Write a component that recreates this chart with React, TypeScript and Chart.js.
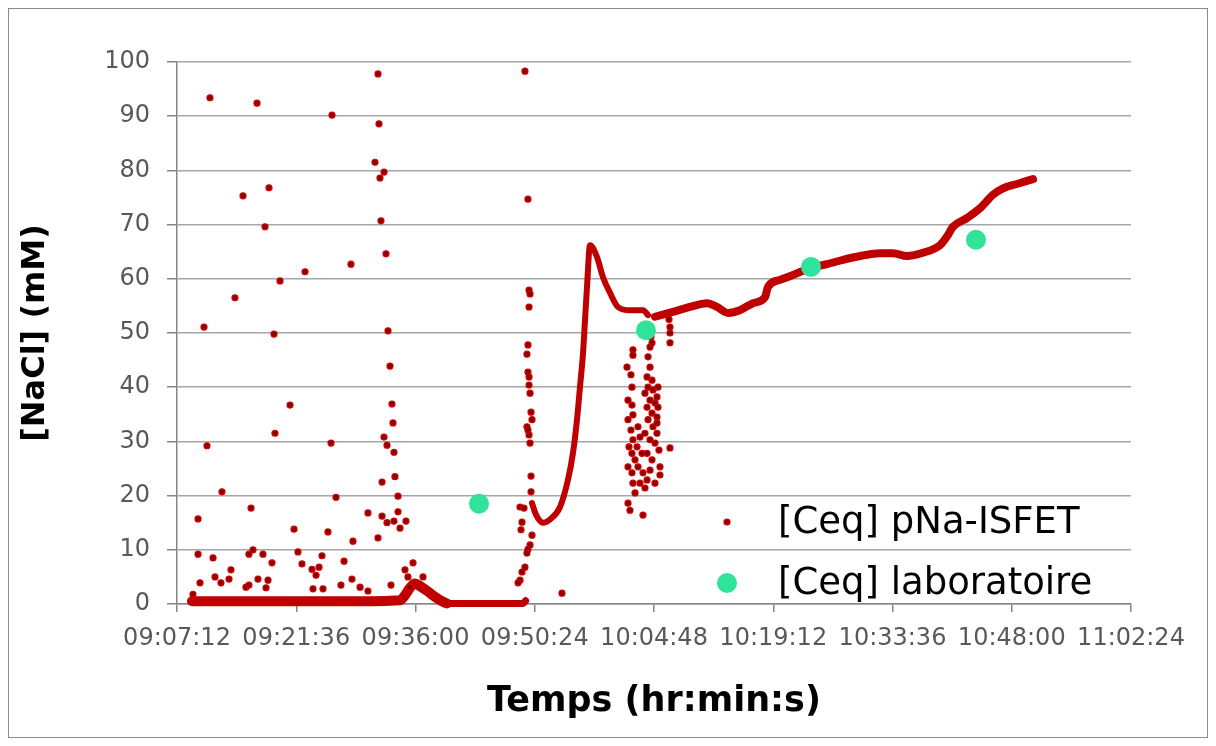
import React, { useEffect, useRef } from "react";
import { Chart, registerables } from "chart.js";

Chart.register(...registerables);

// ---- Axis ticks (minutes after 09:00:00) ----
const xTickMinutes = [7.2, 21.6, 36, 50.4, 64.8, 79.2, 93.6, 108, 122.4];
const yTickValues = [0, 10, 20, 30, 40, 50, 60, 70, 80, 90, 100];

// ---- Laboratory measurements ----
const labMinutes = [43.67, 63.83, 83.76, 103.68];
const labValues = [18.5, 50.5, 62.2, 67.2];

// ---- ISFET: dense baseline near 0 (early, with small hump) ----
const baseEarlyMinutes = [9.01, 15.0, 22.0, 28.0, 34.13, 34.73, 35.34, 35.94, 36.54, 37.51, 38.35, 39.2, 39.8];
const baseEarlyValues = [0.5, 0.5, 0.5, 0.5, 0.7, 1.6, 3.0, 3.8, 3.3, 2.3, 1.3, 0.5, 0.1];

// ---- ISFET: dense baseline near 0 (late) ----
const baseLateMinutes = [39.8, 44.0, 49.0, 49.3];
const baseLateValues = [0.1, 0.1, 0.1, 0.6];

// ---- ISFET: continuous curve after restart ----
const curveAMinutes = [50.07, 50.55, 51.4, 52.24, 53.45, 54.41, 55.02, 55.5, 55.86, 56.23, 56.47, 56.71, 57.07, 57.92, 58.64, 59.49, 60.45, 61.9, 63.47, 64.08];
const curveAValues = [18.6, 16.5, 15.0, 15.6, 17.9, 22.9, 27.9, 34.0, 40.0, 46.3, 52.4, 58.5, 66.2, 64.0, 60.3, 57.4, 54.8, 54.2, 54.2, 53.3];

const curveBMinutes = [64.92, 67.09, 69.14, 71.2, 72.41, 73.73, 75.18, 76.75, 78.2, 78.56, 80.01, 81.58, 83.64, 85.69, 87.62, 89.67, 92.09, 93.66, 95.35, 97.28, 99.33, 100.3, 100.9, 102.59, 104.16, 105.73, 106.94, 108.63, 110.57];
const curveBValues = [53.0, 53.9, 54.8, 55.5, 54.8, 53.7, 54.2, 55.5, 56.6, 58.5, 59.8, 60.7, 62.0, 62.7, 63.5, 64.2, 64.7, 64.7, 64.2, 64.8, 66.2, 68.1, 69.6, 71.2, 73.0, 75.5, 76.7, 77.5, 78.4];

// ---- ISFET: scattered readings, first period ----
const earlyMinutes = [11.18, 16.86, 25.92, 31.47, 31.59, 31.11, 32.2, 31.71, 15.17, 18.31, 17.83, 31.83, 32.44, 28.21, 22.66, 19.64, 14.2, 10.46, 18.91, 32.68, 32.92, 20.85, 33.16, 33.28, 10.82, 19.03, 25.8, 32.2, 32.56, 33.4, 33.52, 31.96, 12.63, 26.4, 33.89, 16.14, 30.26, 31.96, 33.89, 32.56, 33.4, 34.85, 34.13, 9.74, 21.33, 25.43, 31.47, 28.45, 9.74, 11.55, 15.89, 16.38, 17.58, 21.81, 22.29, 24.71, 18.67, 27.37, 24.35, 23.5, 23.99, 13.72, 13.48, 11.79, 12.51, 16.98, 18.19, 17.95, 9.98, 9.13, 15.53, 15.89, 27.0, 28.33, 29.3, 30.26, 23.62, 24.83, 33.04, 34.73, 35.7, 35.09, 36.91, 35.34];
const earlyValues = [93.4, 92.4, 90.2, 97.8, 88.6, 81.5, 79.7, 78.6, 75.3, 76.8, 69.6, 70.7, 64.6, 62.7, 61.3, 59.6, 56.5, 51.1, 49.8, 50.4, 43.9, 36.7, 36.9, 33.4, 29.2, 31.5, 29.7, 30.8, 29.3, 28.0, 23.5, 22.5, 20.7, 19.7, 19.9, 17.7, 16.8, 16.2, 17.0, 15.0, 15.3, 15.3, 14.0, 15.7, 13.8, 13.3, 12.2, 11.6, 9.2, 8.5, 9.2, 10.0, 9.2, 9.6, 7.4, 8.9, 7.6, 7.9, 6.8, 6.4, 5.3, 6.3, 4.6, 5.0, 3.9, 4.6, 4.4, 3.0, 3.9, 1.8, 3.1, 3.5, 3.5, 4.6, 3.1, 2.4, 2.8, 2.8, 3.5, 6.3, 7.6, 5.0, 5.0, 3.1];

// ---- ISFET: scattered readings at restart (~09:50) ----
const restartMinutes = [49.22, 49.58, 49.71, 49.83, 49.71, 49.58, 49.46, 49.58, 49.71, 49.71, 49.83, 49.95, 50.07, 49.46, 49.58, 49.71, 49.83, 49.95, 49.95, 48.62, 49.1, 48.86, 48.74, 50.07, 49.83, 49.58, 49.46, 49.22, 48.86, 48.62, 48.38, 53.69];
const restartValues = [98.3, 74.7, 57.9, 57.2, 54.8, 47.8, 46.1, 42.8, 41.9, 40.4, 38.9, 35.4, 34.0, 32.7, 32.1, 31.2, 29.7, 23.6, 20.7, 17.9, 17.7, 15.1, 13.7, 12.7, 10.9, 10.1, 9.4, 6.8, 5.9, 4.4, 3.9, 2.0];

// ---- ISFET: scattered readings around 10:03 ----
const clusterMinutes = [62.26, 62.26, 61.54, 62.02, 62.14, 61.66, 62.14, 62.26, 61.66, 62.02, 62.26, 61.78, 62.14, 62.51, 61.66, 62.14, 62.26, 62.51, 61.66, 61.9, 62.87, 63.11, 62.75, 63.35, 62.87, 63.47, 63.11, 63.71, 63.47, 64.32, 64.08, 64.32, 63.96, 64.56, 64.08, 64.68, 63.71, 64.32, 64.92, 63.96, 64.56, 65.16, 64.08, 64.68, 63.71, 65.16, 64.32, 64.92, 63.96, 64.56, 65.52, 64.32, 65.52, 64.92, 63.96, 66.73, 66.73, 65.28, 65.16, 65.28, 65.16, 65.4, 64.56, 64.44, 66.73, 66.73, 66.61];
const clusterValues = [46.9, 45.9, 43.7, 42.3, 40.0, 37.6, 36.7, 34.9, 34.0, 32.1, 30.3, 29.0, 27.8, 26.6, 25.3, 24.2, 22.3, 20.5, 18.6, 17.3, 32.7, 30.8, 29.0, 27.8, 25.3, 24.2, 22.3, 21.4, 16.4, 47.4, 45.6, 43.7, 41.9, 41.3, 40.0, 39.5, 38.9, 37.6, 37.1, 36.3, 35.2, 34.5, 34.0, 32.7, 31.5, 31.5, 30.3, 29.7, 27.8, 26.6, 25.3, 24.7, 23.8, 22.3, 22.9, 48.2, 28.8, 40.0, 38.2, 36.3, 33.4, 28.4, 48.2, 49.3, 51.1, 50.0, 52.5];

const isfetLabel = "[Ceq] pNa-ISFET";
const labLabel = "[Ceq] laboratoire";

const RED = "#C00000";
const GREEN = "#2FE39B";
const FONT = '"DejaVu Sans", sans-serif';

const toPoints = (xs: number[], ys: number[]) => xs.map((x, i) => ({ x, y: ys[i] }));

const fmtTime = (v: number) => {
  const total = Math.round((540 + v) * 60);
  const h = Math.floor(total / 3600);
  const m = Math.floor((total % 3600) / 60);
  const s = total % 60;
  const p = (n: number) => String(n).padStart(2, "0");
  return `${p(h)}:${p(m)}:${p(s)}`;
};

const drawDot = (ctx: CanvasRenderingContext2D, x: number, y: number) => {
  ctx.beginPath();
  ctx.arc(x, y, 3, 0, Math.PI * 2);
  ctx.fillStyle = "#8B0000";
  ctx.fill();
  ctx.lineWidth = 1.2;
  ctx.strokeStyle = "#D00000";
  ctx.stroke();
};

const insideLegend = {
  id: "insideLegend",
  afterDraw(chart: any) {
    const { ctx, chartArea } = chart;
    const mx = chartArea.left + 550;
    const tx = chartArea.left + 601;
    const y1 = chartArea.top + 461;
    const y2 = chartArea.top + 522;
    ctx.save();
    ctx.font = `37px ${FONT}`;
    ctx.fillStyle = "#000";
    ctx.textBaseline = "middle";
    ctx.textAlign = "left";
    drawDot(ctx, mx, y1 - 1);
    ctx.fillStyle = "#000";
    ctx.fillText(isfetLabel, tx, y1);
    ctx.beginPath();
    ctx.arc(mx, y2 - 1, 10, 0, Math.PI * 2);
    ctx.fillStyle = GREEN;
    ctx.fill();
    ctx.fillStyle = "#000";
    ctx.fillText(labLabel, tx, y2);
    ctx.restore();
  },
};

export default function App() {
  const ref = useRef<HTMLCanvasElement | null>(null);

  useEffect(() => {
    if (!ref.current) return;
    const scatterStyle = {
      pointRadius: 3,
      pointBackgroundColor: "#8B0000",
      pointBorderColor: "#D00000",
      pointBorderWidth: 1.2,
      showLine: false,
      clip: false as any,
      order: 2,
    };
    const lineStyle = {
      showLine: true,
      pointRadius: 0,
      borderColor: RED,
      borderCapStyle: "round" as const,
      borderJoinStyle: "round" as const,
      cubicInterpolationMode: "monotone" as const,
      clip: false as any,
      order: 3,
    };
    const chart = new Chart(ref.current, {
      type: "scatter",
      data: {
        datasets: [
          {
            label: labLabel,
            data: toPoints(labMinutes, labValues),
            pointRadius: 10,
            pointBackgroundColor: GREEN,
            pointBorderColor: GREEN,
            pointBorderWidth: 0,
            order: 0,
          },
          { label: isfetLabel, data: toPoints(earlyMinutes, earlyValues), ...scatterStyle },
          { label: isfetLabel, data: toPoints(restartMinutes, restartValues), ...scatterStyle },
          { label: isfetLabel, data: toPoints(clusterMinutes, clusterValues), ...scatterStyle },
          { label: isfetLabel, data: toPoints(baseEarlyMinutes, baseEarlyValues), ...lineStyle, borderWidth: 10 },
          { label: isfetLabel, data: toPoints(baseLateMinutes, baseLateValues), ...lineStyle, borderWidth: 7 },
          { label: isfetLabel, data: toPoints(curveAMinutes, curveAValues), ...lineStyle, borderWidth: 6 },
          { label: isfetLabel, data: toPoints(curveBMinutes, curveBValues), ...lineStyle, borderWidth: 8 },
        ],
      },
      options: {
        animation: false,
        responsive: true,
        maintainAspectRatio: false,
        layout: { padding: { top: 53, right: 76, left: 0, bottom: 0 } },
        plugins: {
          legend: { display: false },
          tooltip: { enabled: false },
        },
        scales: {
          x: {
            type: "linear",
            position: "bottom",
            min: xTickMinutes[0],
            max: xTickMinutes[xTickMinutes.length - 1],
            afterBuildTicks: (scale: any) => {
              scale.ticks = xTickMinutes.map((v) => ({ value: v }));
            },
            afterFit: (scale: any) => {
              scale.height = 133;
            },
            grid: {
              drawOnChartArea: false,
              drawTicks: true,
              tickLength: 8,
              color: "#868686",
              lineWidth: 1.5,
            },
            border: { color: "#868686", width: 1.5 },
            ticks: {
              autoSkip: false,
              maxRotation: 0,
              minRotation: 0,
              padding: 12,
              color: "#595959",
              font: { family: FONT, size: 24 },
              callback: (v: any) => fmtTime(Number(v)),
            },
            title: {
              display: true,
              text: "Temps (hr:min:s)",
              color: "#000",
              font: { family: FONT, size: 35, weight: "bold" },
              padding: { top: 0, bottom: 14 },
            },
          },
          y: {
            min: yTickValues[0],
            max: yTickValues[yTickValues.length - 1],
            afterBuildTicks: (scale: any) => {
              scale.ticks = yTickValues.map((v) => ({ value: v }));
            },
            afterFit: (scale: any) => {
              scale.width = 168;
            },
            grid: {
              color: "#a6a6a6",
              lineWidth: 1.5,
              tickLength: 10,
              tickColor: "#868686",
            },
            border: { color: "#868686", width: 1.5 },
            ticks: {
              padding: 17,
              color: "#595959",
              font: { family: FONT, size: 24 },
            },
            title: {
              display: true,
              text: "[NaCl] (mM)",
              color: "#000",
              font: { family: FONT, size: 32, weight: "bold" },
              padding: { top: 7, bottom: 0 },
            },
          },
        },
      },
      plugins: [insideLegend],
    } as any);
    return () => chart.destroy();
  }, []);

  return (
    <div
      style={{
        width: 1200,
        height: 730,
        border: "1px solid #8c8c8c",
        boxSizing: "border-box",
        background: "#fff",
        position: "relative",
      }}
    >
      <canvas ref={ref} style={{ display: "block" }} />
    </div>
  );
}
